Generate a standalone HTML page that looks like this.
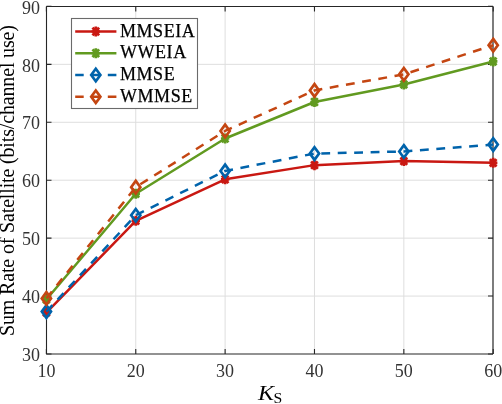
<!DOCTYPE html>
<html><head><meta charset="utf-8"><style>
html,body{margin:0;padding:0;background:#fff;width:502px;height:404px;overflow:hidden}
svg{display:block;will-change:transform}
text{font-family:"Liberation Serif",serif;fill:#262626}
</style></head><body>
<svg width="502" height="404" viewBox="0 0 502 404">
<rect width="502" height="404" fill="#fff"/>

<path d="M135.76 6.5V354.0M225.12 6.5V354.0M314.48 6.5V354.0M403.84 6.5V354.0M46.5 296.07H493.0M46.5 238.13H493.0M46.5 180.20H493.0M46.5 122.27H493.0M46.5 64.33H493.0" stroke="#dedede" stroke-width="1" fill="none"/>
<path d="M46.5 6.5H493.0M46.5 6.5V354.0" stroke="#262626" stroke-width="1.1" fill="none"/>
<path d="M46.0 354.0H493.0" stroke="#262626" stroke-width="1.2" fill="none"/>
<path d="M493.0 6.5V354.0" stroke="#262626" stroke-width="1.2" fill="none"/>
<path d="M46.40 354.0V349.0M46.40 6.5V11.5M135.76 354.0V349.0M135.76 6.5V11.5M225.12 354.0V349.0M225.12 6.5V11.5M314.48 354.0V349.0M314.48 6.5V11.5M403.84 354.0V349.0M403.84 6.5V11.5M493.20 354.0V349.0M493.20 6.5V11.5M46.5 354.00H51.5M493.0 354.00H488.0M46.5 296.07H51.5M493.0 296.07H488.0M46.5 238.13H51.5M493.0 238.13H488.0M46.5 180.20H51.5M493.0 180.20H488.0M46.5 122.27H51.5M493.0 122.27H488.0M46.5 64.33H51.5M493.0 64.33H488.0M46.5 6.40H51.5M493.0 6.40H488.0" stroke="#262626" stroke-width="1.1" fill="none"/>
<text x="40" y="360.80" font-size="18" style="fill:#333" text-anchor="end">30</text>
<text x="40" y="302.97" font-size="18" style="fill:#333" text-anchor="end">40</text>
<text x="40" y="245.13" font-size="18" style="fill:#333" text-anchor="end">50</text>
<text x="40" y="187.30" font-size="18" style="fill:#333" text-anchor="end">60</text>
<text x="40" y="129.47" font-size="18" style="fill:#333" text-anchor="end">70</text>
<text x="40" y="71.64" font-size="18" style="fill:#333" text-anchor="end">80</text>
<text x="40" y="13.80" font-size="18" style="fill:#333" text-anchor="end">90</text>
<text x="46.40" y="377" font-size="18" text-anchor="middle" style="fill:#333">10</text>
<text x="135.76" y="377" font-size="18" text-anchor="middle" style="fill:#333">20</text>
<text x="225.12" y="377" font-size="18" text-anchor="middle" style="fill:#333">30</text>
<text x="314.48" y="377" font-size="18" text-anchor="middle" style="fill:#333">40</text>
<text x="403.84" y="377" font-size="18" text-anchor="middle" style="fill:#333">50</text>
<text x="493.20" y="377" font-size="18" text-anchor="middle" style="fill:#333">60</text>
<text transform="translate(258 400) scale(1.12 1)" font-size="21.5" font-style="italic" style="fill:#000">K</text><text transform="translate(273.6 402.8) scale(1.05 1)" font-size="15" style="fill:#000">S</text>
<text transform="translate(14.1 336) rotate(-90)" font-size="20" textLength="311" lengthAdjust="spacing" style="fill:#000">Sum Rate of Satellite (bits/channel use)</text>
<polyline points="46.40,312.58 135.76,220.87 225.12,179.33 314.48,165.14 403.84,161.08 493.20,162.82" fill="none" stroke="#c91812" stroke-width="2.5" stroke-linejoin="round"/>
<path d="M42.20 312.58H50.60M46.40 307.58V317.58M43.10 308.78L49.70 316.38M43.10 316.38L49.70 308.78" stroke="#c91812" stroke-width="2.7" fill="none"/>
<path d="M131.56 220.87H139.96M135.76 215.87V225.87M132.46 217.07L139.06 224.67M132.46 224.67L139.06 217.07" stroke="#c91812" stroke-width="2.7" fill="none"/>
<path d="M220.92 179.33H229.32M225.12 174.33V184.33M221.82 175.53L228.42 183.13M221.82 183.13L228.42 175.53" stroke="#c91812" stroke-width="2.7" fill="none"/>
<path d="M310.28 165.14H318.68M314.48 160.14V170.14M311.18 161.34L317.78 168.94M311.18 168.94L317.78 161.34" stroke="#c91812" stroke-width="2.7" fill="none"/>
<path d="M399.64 161.08H408.04M403.84 156.08V166.08M400.54 157.28L407.14 164.88M400.54 164.88L407.14 157.28" stroke="#c91812" stroke-width="2.7" fill="none"/>
<path d="M489.00 162.82H497.40M493.20 157.82V167.82M489.90 159.02L496.50 166.62M489.90 166.62L496.50 159.02" stroke="#c91812" stroke-width="2.7" fill="none"/>
<polyline points="46.40,299.54 135.76,193.81 225.12,138.49 314.48,101.99 403.84,84.44 493.20,61.44" fill="none" stroke="#619a20" stroke-width="2.5" stroke-linejoin="round"/>
<path d="M42.20 299.54H50.60M46.40 294.54V304.54M43.10 295.74L49.70 303.34M43.10 303.34L49.70 295.74" stroke="#619a20" stroke-width="2.7" fill="none"/>
<path d="M131.56 193.81H139.96M135.76 188.81V198.81M132.46 190.01L139.06 197.61M132.46 197.61L139.06 190.01" stroke="#619a20" stroke-width="2.7" fill="none"/>
<path d="M220.92 138.49H229.32M225.12 133.49V143.49M221.82 134.69L228.42 142.29M221.82 142.29L228.42 134.69" stroke="#619a20" stroke-width="2.7" fill="none"/>
<path d="M310.28 101.99H318.68M314.48 96.99V106.99M311.18 98.19L317.78 105.79M311.18 105.79L317.78 98.19" stroke="#619a20" stroke-width="2.7" fill="none"/>
<path d="M399.64 84.44H408.04M403.84 79.44V89.44M400.54 80.64L407.14 88.24M400.54 88.24L407.14 80.64" stroke="#619a20" stroke-width="2.7" fill="none"/>
<path d="M489.00 61.44H497.40M493.20 56.44V66.44M489.90 57.64L496.50 65.24M489.90 65.24L496.50 57.64" stroke="#619a20" stroke-width="2.7" fill="none"/>
<polyline points="46.40,311.59 135.76,215.25 225.12,170.93 314.48,153.55 403.84,151.47 493.20,144.57" fill="none" stroke="#0063ab" stroke-width="2.5" stroke-dasharray="8.85 7.6" stroke-linejoin="round"/>
<path d="M46.40 305.29L51.00 311.59L46.40 317.89L41.80 311.59Z" fill="none" stroke="#0063ab" stroke-width="2.7" stroke-linejoin="miter"/>
<path d="M135.76 208.95L140.36 215.25L135.76 221.55L131.16 215.25Z" fill="none" stroke="#0063ab" stroke-width="2.7" stroke-linejoin="miter"/>
<path d="M225.12 164.63L229.72 170.93L225.12 177.23L220.52 170.93Z" fill="none" stroke="#0063ab" stroke-width="2.7" stroke-linejoin="miter"/>
<path d="M314.48 147.25L319.08 153.55L314.48 159.85L309.88 153.55Z" fill="none" stroke="#0063ab" stroke-width="2.7" stroke-linejoin="miter"/>
<path d="M403.84 145.17L408.44 151.47L403.84 157.77L399.24 151.47Z" fill="none" stroke="#0063ab" stroke-width="2.7" stroke-linejoin="miter"/>
<path d="M493.20 138.27L497.80 144.57L493.20 150.87L488.60 144.57Z" fill="none" stroke="#0063ab" stroke-width="2.7" stroke-linejoin="miter"/>
<polyline points="46.40,298.38 135.76,187.15 225.12,130.96 314.48,90.40 403.84,74.36 493.20,45.22" fill="none" stroke="#c44612" stroke-width="2.5" stroke-dasharray="8.85 7.6" stroke-linejoin="round"/>
<path d="M46.40 292.08L51.00 298.38L46.40 304.68L41.80 298.38Z" fill="none" stroke="#c44612" stroke-width="2.7" stroke-linejoin="miter"/>
<path d="M135.76 180.85L140.36 187.15L135.76 193.45L131.16 187.15Z" fill="none" stroke="#c44612" stroke-width="2.7" stroke-linejoin="miter"/>
<path d="M225.12 124.66L229.72 130.96L225.12 137.26L220.52 130.96Z" fill="none" stroke="#c44612" stroke-width="2.7" stroke-linejoin="miter"/>
<path d="M314.48 84.10L319.08 90.40L314.48 96.70L309.88 90.40Z" fill="none" stroke="#c44612" stroke-width="2.7" stroke-linejoin="miter"/>
<path d="M403.84 68.06L408.44 74.36L403.84 80.66L399.24 74.36Z" fill="none" stroke="#c44612" stroke-width="2.7" stroke-linejoin="miter"/>
<path d="M493.20 38.92L497.80 45.22L493.20 51.52L488.60 45.22Z" fill="none" stroke="#c44612" stroke-width="2.7" stroke-linejoin="miter"/>
<rect x="71.5" y="18.5" width="126.0" height="90.0" fill="#fff" stroke="#6a6a6a" stroke-width="1.1"/>
<path d="M75.2 31.50H116.4" stroke="#c91812" stroke-width="2.5" fill="none"/>
<path d="M91.60 31.50H100.00M95.80 26.50V36.50M92.50 27.70L99.10 35.30M92.50 35.30L99.10 27.70" stroke="#c91812" stroke-width="2.7" fill="none"/>
<text x="120" y="36.60" font-size="18" letter-spacing="0.55" style="fill:#000;stroke:#000;stroke-width:0.25">MMSEIA</text>
<path d="M75.2 53.25H116.4" stroke="#619a20" stroke-width="2.5" fill="none"/>
<path d="M91.60 53.25H100.00M95.80 48.25V58.25M92.50 49.45L99.10 57.05M92.50 57.05L99.10 49.45" stroke="#619a20" stroke-width="2.7" fill="none"/>
<text x="120" y="58.35" font-size="18" letter-spacing="0.55" style="fill:#000;stroke:#000;stroke-width:0.25">WWEIA</text>
<path d="M75.2 75.00H83.7M91.5 75.00H100M107.8 75.00H116.4" stroke="#0063ab" stroke-width="2.5" fill="none"/>
<path d="M95.80 68.70L100.40 75.00L95.80 81.30L91.20 75.00Z" fill="none" stroke="#0063ab" stroke-width="2.7" stroke-linejoin="miter"/>
<text x="120" y="80.10" font-size="18" letter-spacing="0.55" style="fill:#000;stroke:#000;stroke-width:0.25">MMSE</text>
<path d="M75.2 96.75H83.7M91.5 96.75H100M107.8 96.75H116.4" stroke="#c44612" stroke-width="2.5" fill="none"/>
<path d="M95.80 90.45L100.40 96.75L95.80 103.05L91.20 96.75Z" fill="none" stroke="#c44612" stroke-width="2.7" stroke-linejoin="miter"/>
<text x="120" y="101.85" font-size="18" letter-spacing="0.55" style="fill:#000;stroke:#000;stroke-width:0.25">WMMSE</text>
</svg></body></html>
